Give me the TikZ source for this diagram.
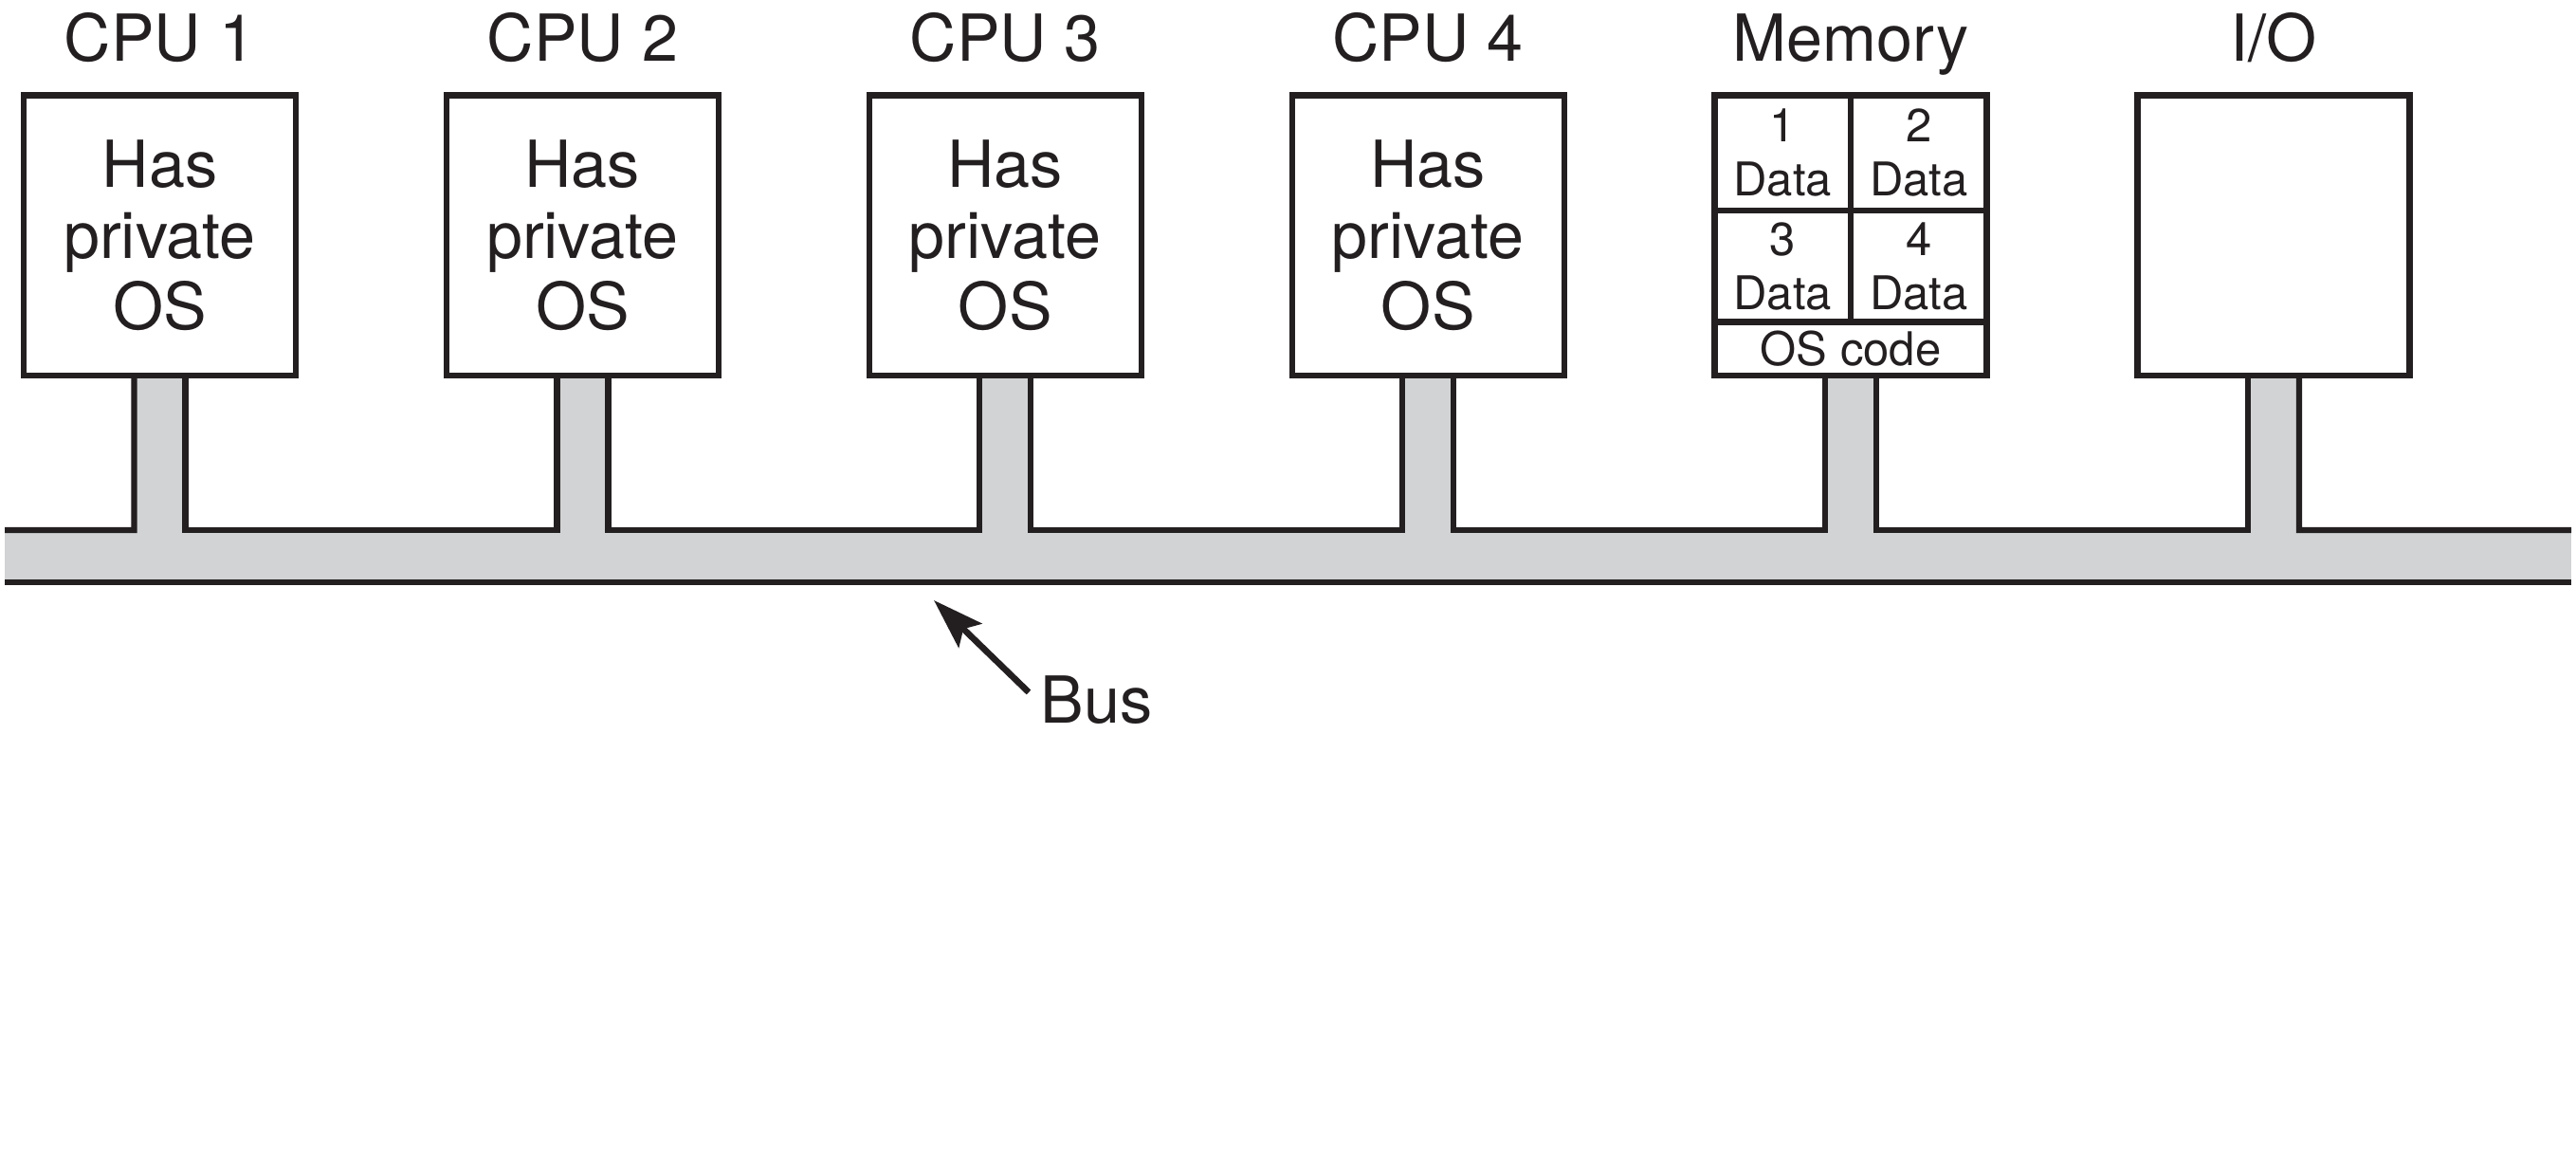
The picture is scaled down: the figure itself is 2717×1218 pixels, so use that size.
\documentclass[tikz,border=0pt]{standalone}
\usepackage{fontspec}
\setmainfont{TeX Gyre Heros}
\usetikzlibrary{calc,arrows.meta,backgrounds}
\definecolor{ink}{RGB}{35,31,32}
\definecolor{busgray}{RGB}{209,211,212}
\tikzset{
  bigfont/.style={font=\fontsize{20.5}{22.4}\selectfont},
  cellfont/.style={font=\fontsize{14.7}{17.1}\selectfont},
  unitbox/.style={draw=ink, line width=1.9pt, fill=white, inner sep=0pt, outer sep=0pt,
    minimum width=86.1pt, minimum height=88.65pt, align=center, bigfont, text=ink},
  unitlabel/.style={anchor=base, bigfont, text=ink, inner sep=0pt},
  celltext/.style={align=center, cellfont, text=ink, inner sep=0pt},
  busline/.style={draw=ink, line width=1.9pt, line join=miter},
  busarrow/.style={draw=ink, line width=2pt, -{Stealth[length=16pt,width=10.5pt,inset=3pt]}},
}
\begin{document}
\begin{tikzpicture}[x=0.3pt,y=-0.3pt]
\useasboundingbox (0,0) rectangle (2717,1218);

% units
\node[unitbox] (c1)  at (168.5,248.25)  {Has\\private\\OS};
\node[unitbox] (c2)  at (614.4,248.25)  {Has\\private\\OS};
\node[unitbox] (c3)  at (1060.3,248.25) {Has\\private\\OS};
\node[unitbox] (c4)  at (1506.2,248.25) {Has\\private\\OS};
\node[unitbox] (mem) at (1952.1,248.25) {};
\node[unitbox] (io)  at (2398.0,248.25) {};

% labels
\node[unitlabel] (l1) at (168.5,64)  {CPU 1};
\node[unitlabel] (l2) at (614.4,64)  {CPU 2};
\node[unitlabel] (l3) at (1060.3,64) {CPU 3};
\node[unitlabel] (l4) at (1506.2,64) {CPU 4};
\node[unitlabel] (lm) at (1952.1,64) {Memory};
\node[unitlabel] (li) at (2398.0,64) {I/O};

% memory partitions
\draw[busline] ($(mem.north west)+(0,121.3)$) -- ($(mem.north east)+(0,121.3)$);
\draw[busline] ($(mem.north west)+(0,239.1)$) -- ($(mem.north east)+(0,239.1)$);
\draw[busline] (mem.north) -- ($(mem.north)+(0,239.1)$);
\node[celltext] (d1) at (1880.3,161.2) {1\\Data};
\node[celltext] (d2) at (2023.9,161.2) {2\\Data};
\node[celltext] (d3) at (1880.3,280.7) {3\\Data};
\node[celltext] (d4) at (2023.9,280.7) {4\\Data};
\node[celltext] (osc) at (1952.1,368) {OS code};

% bus
\coordinate (busTL) at (5,559);
\coordinate (busTR) at (2712,559);
\coordinate (busBL) at (5,614);
\coordinate (busBR) at (2712,614);

\begin{scope}[on background layer]
  \fill[busgray] (busTL) rectangle (busBR);
  \foreach \n in {c1,c2,c3,c4,mem,io}{
    \fill[busgray] ($(\n.south)+(-27,0)$) rectangle ($(\n.south)+(27,165)$);
  }
\end{scope}

\draw[busline] (busTL) -- ($(c1.south)+(-27,163)$) -- ($(c1.south)+(-27,0)$);
\foreach \a/\b in {c1/c2,c2/c3,c3/c4,c4/mem,mem/io}{
  \draw[busline] ($(\a.south)+(27,0)$) -- ($(\a.south)+(27,163)$)
     -- ($(\b.south)+(-27,163)$) -- ($(\b.south)+(-27,0)$);
}
\draw[busline] ($(io.south)+(27,0)$) -- ($(io.south)+(27,163)$) -- (busTR);
\draw[busline] (busBL) -- (busBR);

% bus label and arrow
\node[anchor=base west, bigfont, text=ink, inner sep=0pt] (bustxt) at (1097,762) {Bus};
\coordinate (tail) at (1085,730);
\coordinate (tip) at (985,633);
\draw[busarrow] (tail) -- (tip);
\end{tikzpicture}
\end{document}
